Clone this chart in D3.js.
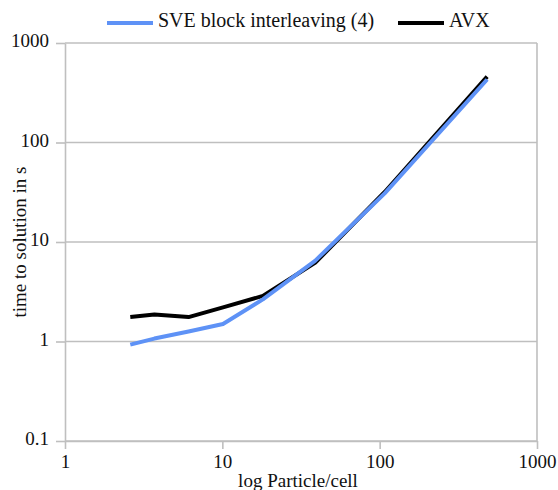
<!DOCTYPE html>
<html>
<head>
<meta charset="utf-8">
<script src="https://cdn.jsdelivr.net/npm/d3@7/dist/d3.min.js"></script>
<style>
  html, body { margin: 0; padding: 0; background: #fff; }
  svg { display: block; }
  text { font-family: "Liberation Serif", "DejaVu Serif", serif; fill: #111; }
</style>
</head>
<body>
<svg id="chart" width="558" height="490"></svg>
<script>
// Particles per cell (x) and time to solution in seconds (y)
const particlesPerCell = [2.6, 3.7, 6.1, 10.1, 18.1, 39, 108, 482];
const sveTimes = [0.93, 1.07, 1.26, 1.5, 2.65, 6.5, 31, 430];
const avxTimes = [1.76, 1.87, 1.76, 2.2, 2.87, 6.2, 32, 460];

const xTicks = [1, 10, 100, 1000];
const yTicks = [0.1, 1, 10, 100, 1000];

const seriesNames = ["SVE block interleaving (4)", "AVX"];
const seriesColors = ["#5e92f6", "#000000"];

const svg = d3.select("#chart");
const plotLeft = 65, plotRight = 537, plotTop = 43, plotBottom = 441;
const gridColor = "#bfbfbf";

const x = d3.scaleLog().domain([1, 1000]).range([plotLeft, plotRight]);
const y = d3.scaleLog().domain([0.1, 1000]).range([plotBottom, plotTop]);

// horizontal gridlines
svg.append("g")
  .selectAll("line")
  .data(yTicks)
  .join("line")
  .attr("x1", plotLeft).attr("x2", plotRight)
  .attr("y1", d => y(d)).attr("y2", d => y(d))
  .attr("stroke", gridColor).attr("stroke-width", 1.6);

// right border of the plot area
svg.append("line")
  .attr("x1", plotRight).attr("x2", plotRight)
  .attr("y1", plotTop).attr("y2", plotBottom)
  .attr("stroke", gridColor).attr("stroke-width", 1.6);

// y axis
const yAxis = svg.append("g")
  .attr("transform", `translate(${plotLeft},0)`)
  .call(d3.axisLeft(y).tickValues(yTicks).tickFormat(d3.format("~g")).tickSize(9).tickSizeOuter(0).tickPadding(7));
yAxis.select(".domain").attr("stroke", gridColor).attr("stroke-width", 1.6);
yAxis.selectAll(".tick line").attr("stroke", gridColor).attr("stroke-width", 1.6);
yAxis.selectAll(".tick text")
  .attr("font-size", 19).attr("font-family", "Liberation Serif").attr("fill", "#111")
  .attr("dy", "0.2em");

// x axis
const xAxis = svg.append("g")
  .attr("transform", `translate(0,${plotBottom})`)
  .call(d3.axisBottom(x).tickValues(xTicks).tickFormat(d3.format("~g")).tickSize(8).tickSizeOuter(0).tickPadding(6));
xAxis.select(".domain").attr("stroke", gridColor).attr("stroke-width", 1.6);
xAxis.selectAll(".tick line").attr("stroke", gridColor).attr("stroke-width", 1.6);
xAxis.selectAll(".tick text")
  .attr("font-size", 19).attr("font-family", "Liberation Serif").attr("fill", "#111");

// axis titles
svg.append("text")
  .attr("x", (plotLeft + plotRight) / 2 - 3).attr("y", 487)
  .attr("text-anchor", "middle").attr("font-size", 19)
  .text("log Particle/cell");

svg.append("text")
  .attr("transform", `translate(26,${(plotTop + plotBottom) / 2}) rotate(-90)`)
  .attr("text-anchor", "middle").attr("font-size", 19)
  .text("time to solution in s");

// data lines: AVX underneath, SVE on top
const line = d3.line()
  .x((d, i) => x(particlesPerCell[i]))
  .y(d => y(d));

svg.append("path")
  .datum(avxTimes)
  .attr("d", line)
  .attr("fill", "none").attr("stroke", seriesColors[1])
  .attr("stroke-width", 4).attr("stroke-linejoin", "round");

svg.append("path")
  .datum(sveTimes)
  .attr("d", line)
  .attr("fill", "none").attr("stroke", seriesColors[0])
  .attr("stroke-width", 4).attr("stroke-linejoin", "round");

// legend
const legendItems = [
  { name: seriesNames[0], color: seriesColors[0], x: 107 },
  { name: seriesNames[1], color: seriesColors[1], x: 398 }
];
const lg = svg.append("g");
legendItems.forEach(item => {
  lg.append("line")
    .attr("x1", item.x).attr("x2", item.x + 46)
    .attr("y1", 23).attr("y2", 23)
    .attr("stroke", item.color).attr("stroke-width", 4);
  lg.append("text")
    .attr("x", item.x + 51).attr("y", 27)
    .attr("font-size", 20)
    .text(item.name);
});
</script>
</body>
</html>
